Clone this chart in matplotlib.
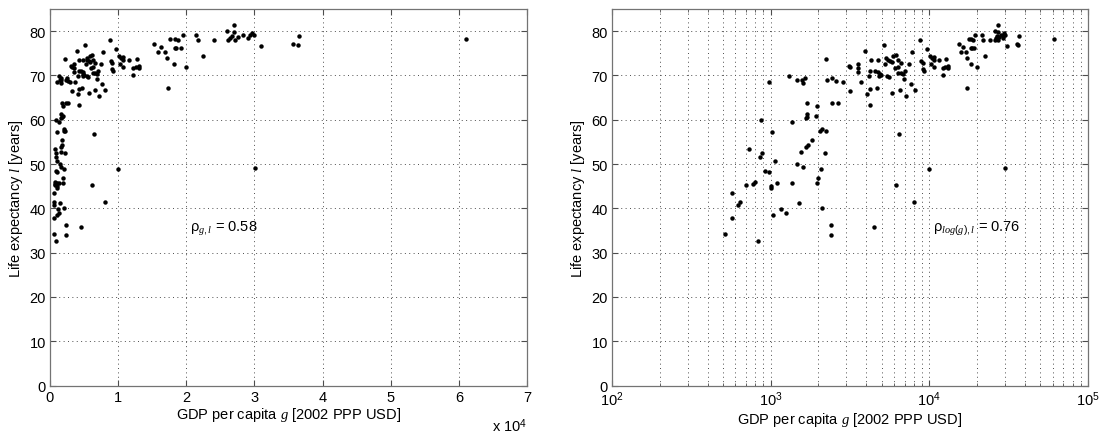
import numpy as np
import matplotlib
matplotlib.use('Agg')
import matplotlib.pyplot as plt
from matplotlib.ticker import LogLocator, NullFormatter, FixedLocator

# GDP per capita [2002 PPP USD] and life expectancy [years], one entry per country
gdp = [
    518, 573, 573, 622, 643, 703, 733, 773, 793, 830,
    867, 880, 853, 919, 971, 971, 1012, 1012, 1019, 1037,
    1060, 1091, 1161, 1256, 1303, 1361, 1371, 1458, 1468, 1500,
    1567, 1600, 1652, 1560, 1589, 1698, 1684, 1690, 1667, 1710,
    1671, 1816, 1928, 1946, 1977, 1968, 2033, 2113, 2244, 2078,
    2113, 2198, 2234, 2275, 2431, 2576, 2419, 2638, 2402, 2384,
    2866, 3105, 3184, 3184, 3532, 3573, 3565, 3733, 3945, 4055,
    4150, 4217, 4256, 4217, 4296, 4529, 4508, 4710, 4775, 4775,
    4866, 4843, 4966, 5164, 5260, 5370, 5470, 5383, 5598, 5662,
    5823, 5794, 5943, 6180, 6324, 6324, 6085, 6353, 6474, 6138,
    6637, 6637, 6839, 7065, 6895, 6571, 7168, 7482, 7737, 7674,
    8128, 8750, 8913, 9081, 9311, 9120, 9705, 10140, 10400, 10740,
    10640, 10250, 10640, 11560, 12250, 12130, 12560, 13040, 13040, 12740,
    9950, 8050,
    15270, 15860, 16250, 16940, 17230, 17320, 17670, 18200, 18300, 18790,
    18300, 18550, 19180, 19520, 19910, 21480, 21720, 22450, 24060, 26010,
    26940, 26940, 26110, 26450, 26740, 27090, 27570, 28300, 29090, 29380,
    29670, 30010, 30990, 35720, 36360, 36600, 30060, 61050,
]
life = [
    34.3, 37.8, 43.5, 40.8, 41.4, 45.2, 53.4, 45.5, 46.0, 32.7,
    59.9, 52.6, 51.5, 48.5, 48.3, 68.6, 45.1, 44.7, 57.2, 38.5,
    50.7, 45.8, 39.8, 38.9, 69.8, 59.6, 45.7, 68.9, 50.0, 41.2,
    69.0, 68.4, 69.5, 52.7, 49.4, 63.7, 61.2, 60.7, 60.5, 54.3,
    53.9, 55.5, 60.8, 63.0, 46.8, 45.8, 57.5, 57.8, 57.4, 48.9,
    40.1, 52.4, 73.6, 69.0, 69.4, 68.8, 63.7, 63.7, 36.3, 33.9,
    68.6, 72.2, 72.0, 66.6, 72.5, 71.7, 70.7, 68.5, 75.6, 65.7,
    69.8, 70.9, 66.9, 63.3, 73.5, 70.9, 35.7, 67.2, 73.5, 70.7,
    70.3, 69.8, 70.0, 76.8, 72.5, 74.0, 73.4, 69.8, 69.6, 73.2,
    73.0, 66.1, 74.3, 74.6, 73.4, 72.0, 71.6, 70.6, 56.7, 45.3,
    72.8, 70.6, 70.3, 70.9, 69.2, 66.7, 65.4, 72.6, 75.2, 68.1,
    66.7, 78.0, 73.2, 72.8, 71.1, 71.5, 76.0, 74.3, 73.9, 74.1,
    73.4, 72.5, 72.0, 73.4, 70.0, 71.6, 72.0, 72.2, 71.6, 73.6,
    48.8, 41.5,
    77.0, 75.3, 76.4, 75.3, 73.9, 67.1, 78.3, 72.6, 78.2, 78.1,
    76.2, 76.2, 76.2, 79.1, 71.9, 79.2, 78.1, 74.5, 77.9, 80.0,
    81.5, 79.8, 77.9, 78.5, 78.8, 78.1, 78.7, 79.1, 78.5, 79.2,
    79.6, 79.1, 76.6, 77.0, 76.9, 78.8, 49.0, 78.3,
]
rho_lin = '0.58'
rho_log = '0.76'

plt.rcParams['font.family'] = ['Liberation Sans', 'DejaVu Sans']
plt.rcParams['mathtext.fontset'] = 'custom'
plt.rcParams['mathtext.it'] = 'Liberation Serif:italic'
plt.rcParams['mathtext.rm'] = 'Liberation Sans'

fig = plt.figure(figsize=(11.09, 4.35), dpi=100)
ax1 = fig.add_axes([50 / 1109, 48.5 / 435, 477 / 1109, 376.5 / 435])
ax2 = fig.add_axes([612 / 1109, 48.5 / 435, 476 / 1109, 376.5 / 435])

grid_kw = dict(color='0.3', linestyle=(0, (1, 3.5)), linewidth=0.7)

for ax in (ax1, ax2):
    ax.plot(gdp, life, 'o', color='black', markersize=3.2, markeredgewidth=0)
    ax.set_ylim(0, 85)
    ax.set_yticks(np.arange(0, 81, 10))
    ax.set_ylabel('Life expectancy $\\it{l}$ [years]', fontsize=10.5, labelpad=3)
    ax.set_xlabel('GDP per capita $\\it{g}$ [2002 PPP USD]', fontsize=10.5, labelpad=1)
    ax.tick_params(direction='in', top=True, right=True, length=4,
                   labelsize=10.5, color='0.3', pad=3)
    for s in ax.spines.values():
        s.set_color('0.45')
        s.set_linewidth(0.9)

# linear axes
ax1.set_xlim(0, 70000)
ax1.xaxis.set_major_locator(FixedLocator(np.arange(0, 70001, 10000)))
ax1.set_xticklabels([str(i) for i in range(8)])
ax1.grid(True, **grid_kw)
ax1.text(1.0, -0.082, 'x 10$^4$', transform=ax1.transAxes, ha='right',
         va='top', fontsize=10.5)
ax1.text(20500, 35, 'ρ$_{g,l}$ = ' + rho_lin, fontsize=10.5)

# log axes
ax2.set_xscale('log')
ax2.set_xlim(1e2, 1e5)
ax2.xaxis.set_major_locator(LogLocator(base=10, numticks=10))
ax2.xaxis.set_minor_locator(LogLocator(base=10, subs=np.arange(2, 10), numticks=20))
ax2.xaxis.set_minor_formatter(NullFormatter())
ax2.tick_params(which='minor', direction='in', top=True, length=2, color='0.3')
ax2.grid(True, which='both', **grid_kw)
ax2.text(10500, 35, 'ρ$_{log(g),l}$ = ' + rho_log, fontsize=10.5)

fig.savefig('out.png', dpi=100)
